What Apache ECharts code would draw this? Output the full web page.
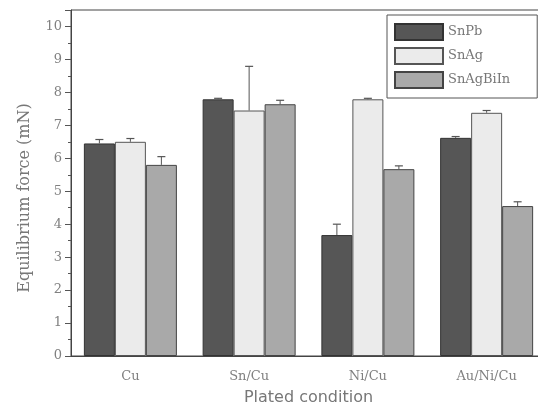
<!DOCTYPE html>
<html>
<head>
<meta charset="utf-8">
<script src="https://cdn.jsdelivr.net/npm/echarts@6/dist/echarts.min.js"></script>
<style>
  html, body { margin: 0; padding: 0; background: #fff; }
  #chart { width: 538px; height: 414px; }
</style>
</head>
<body>
<div id="chart"></div>
<script>
// plated conditions
var categories = ['Cu', 'Sn/Cu', 'Ni/Cu', 'Au/Ni/Cu'];
// equilibrium force (mN) and upper error
var snPb = [6.45, 7.79, 3.67, 6.62];
var snPbErr = [0.12, 0.03, 0.33, 0.04];
var snAg = [6.5, 7.45, 7.79, 7.38];
var snAgErr = [0.1, 1.34, 0.03, 0.07];
var snAgBiIn = [5.8, 7.64, 5.67, 4.55];
var snAgBiInErr = [0.25, 0.12, 0.1, 0.13];

var serifFont = '"DejaVu Serif", "Liberation Serif", serif';
var barW = 31;

function errData(vals, errs) {
	return vals.map(function (v, i) { return [i, v, v + errs[i]]; });
}

function errSeries(vals, errs, offset) {
	return {
		type: 'custom',
		xAxisIndex: 0,
		z: 5,
		silent: true,
		data: errData(vals, errs),
		renderItem: function (params, api) {
			var base = api.coord([api.value(0), api.value(1)]);
			var top = api.coord([api.value(0), api.value(2)]);
			var x = base[0] + offset;
			return {
				type: 'group',
				children: [
					{ type: 'line', shape: { x1: x, y1: base[1], x2: x, y2: top[1] }, style: { stroke: '#555', lineWidth: 1 } },
					{ type: 'line', shape: { x1: x - 4, y1: top[1], x2: x + 4, y2: top[1] }, style: { stroke: '#555', lineWidth: 1.2 } }
				]
			};
		}
	};
}

var chart = echarts.init(document.getElementById('chart'));
var option = {
	backgroundColor: '#fff',
	animation: false,
	// plot runs a little past the right edge, like the cropped original
	grid: {
		left: 71, top: 10, width: 475, bottom: 58,
		outerBoundsMode: 'none',
		show: true, borderColor: '#444', borderWidth: 1
	},
	legend: {
		orient: 'vertical',
		left: 387, top: 15,
		padding: [8, 27, 9, 7],
		itemWidth: 48, itemHeight: 16, itemGap: 6,
		borderColor: '#555', borderWidth: 1,
		backgroundColor: '#fff',
		icon: 'rect',
		textStyle: { fontFamily: serifFont, fontSize: 13, color: '#777' },
		data: ['SnPb', 'SnAg', 'SnAgBiIn']
	},
	xAxis: [
		{
			type: 'category',
			data: categories,
			name: 'Plated condition',
			nameLocation: 'middle',
			nameGap: 34,
			nameTextStyle: { fontFamily: '"DejaVu Sans", sans-serif', fontSize: 16, color: '#777' },
			axisLine: { lineStyle: { color: '#444' } },
			axisTick: { alignWithLabel: true, length: 5, lineStyle: { color: '#555' } },
			axisLabel: { fontFamily: serifFont, fontSize: 13, color: '#808080', margin: 14 },
			splitLine: { show: false }
		},
		{
			type: 'category',
			data: categories,
			position: 'bottom',
			axisLine: { show: false },
			axisTick: { length: 4, lineStyle: { color: '#555' } },
			axisLabel: { show: false },
			splitLine: { show: false }
		}
	],
	yAxis: {
		type: 'value',
		min: 0, max: 10.5, interval: 1,
		name: 'Equilibrium force (mN)',
		nameLocation: 'middle',
		nameGap: 38,
		nameTextStyle: { fontFamily: serifFont, fontSize: 16, color: '#777', padding: [0, 30, 0, 0] },
		axisLine: { show: true, lineStyle: { color: '#444' } },
		axisTick: { show: true, length: 6, lineStyle: { color: '#555' } },
		minorTick: { show: true, splitNumber: 2, length: 3, lineStyle: { color: '#555' } },
		axisLabel: { fontFamily: serifFont, fontSize: 13, color: '#808080', margin: 9, showMaxLabel: false },
		splitLine: { show: false }
	},
	series: [
		{
			name: 'SnPb', type: 'bar', data: snPb, barWidth: barW, barGap: '0%',
			itemStyle: { color: '#565656', borderColor: '#333', borderWidth: 1 }
		},
		{
			name: 'SnAg', type: 'bar', data: snAg, barWidth: barW, barGap: '0%',
			itemStyle: { color: '#ebebeb', borderColor: '#555', borderWidth: 1 }
		},
		{
			name: 'SnAgBiIn', type: 'bar', data: snAgBiIn, barWidth: barW, barGap: '0%',
			itemStyle: { color: '#a9a9a9', borderColor: '#444', borderWidth: 1 }
		},
		errSeries(snPb, snPbErr, -barW),
		errSeries(snAg, snAgErr, 0),
		errSeries(snAgBiIn, snAgBiInErr, barW)
	]
};
chart.setOption(option);
</script>
</body>
</html>
